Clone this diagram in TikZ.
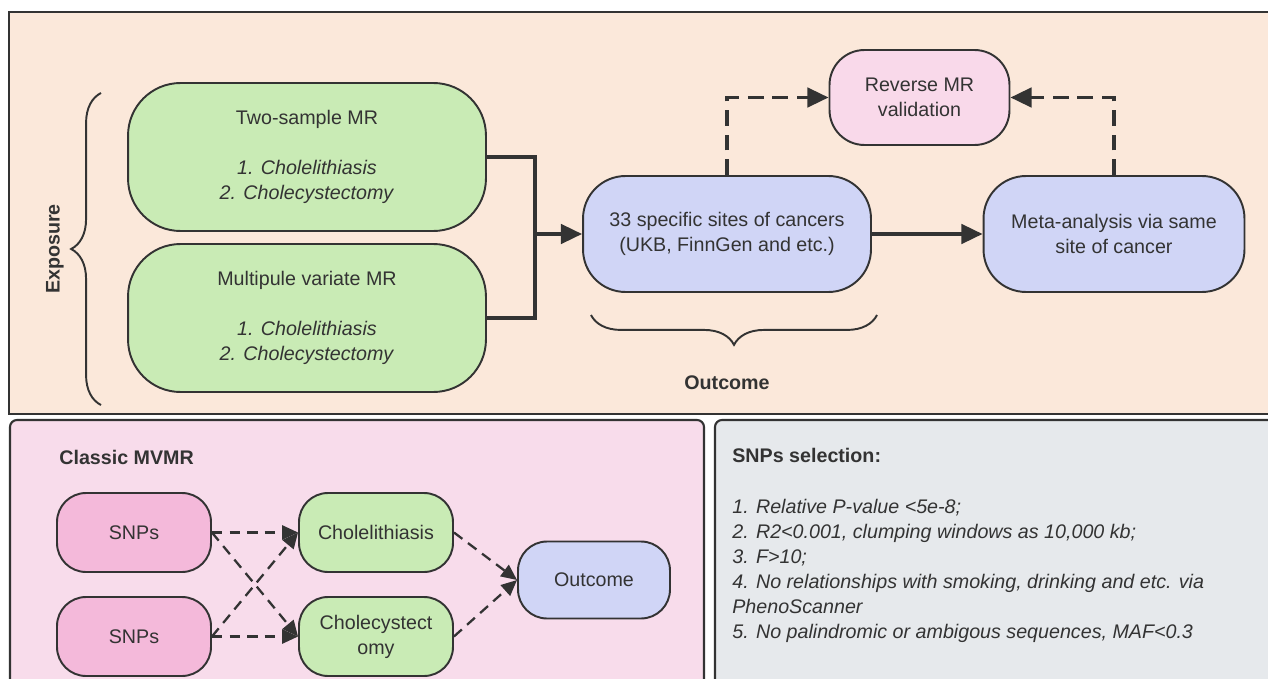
\documentclass[tikz,border=0pt]{standalone}
\usepackage{fontspec}
\setmainfont{Liberation Sans}
\usetikzlibrary{arrows.meta}
\usetikzlibrary{decorations.pathreplacing}
\definecolor{peach}{HTML}{FBE8DA}
\definecolor{leafgreen}{HTML}{C9EBB5}
\definecolor{paleblue}{HTML}{D0D5F6}
\definecolor{palepink}{HTML}{F9D9EA}
\definecolor{rosepink}{HTML}{F4B9DA}
\definecolor{panelpink}{HTML}{F8DCEB}
\definecolor{panelgray}{HTML}{E6E9EC}
\definecolor{inkgray}{HTML}{333333}

\tikzset{
 panel/.style={draw=inkgray, line width=1.2pt},
 box/.style={draw=inkgray, line width=1.1pt, align=center, text=inkgray, inner sep=0pt},
 bigbox/.style={box, rounded corners=1.05cm, minimum width=7.16cm, minimum height=2.96cm, fill=leafgreen},
 midbox/.style={box, rounded corners=0.85cm, minimum height=2.32cm, fill=paleblue},
 smallbox/.style={box, rounded corners=0.58cm, minimum width=3.08cm, minimum height=1.58cm},
 thickline/.style={draw=inkgray, line width=2pt},
 thickarrow/.style={thickline, -{Triangle[length=12pt,width=11pt]}},
 dasharrow/.style={thickarrow, dash pattern=on 9pt off 5pt},
 thinarrow/.style={draw=inkgray, line width=1.3pt, dash pattern=on 6pt off 4pt, -{Triangle[length=9pt,width=8pt]}},
 bracestyle/.style={draw=inkgray, line width=1.1pt, decorate, decoration={brace, amplitude=17pt}},
 label/.style={text=inkgray, font=\fontsize{11.2}{14.2}\selectfont\bfseries, inner sep=0pt}
}

\begin{document}
\begin{tikzpicture}[x=0.02cm, y=-0.02cm, font=\fontsize{11.2}{14.2}\selectfont]
\useasboundingbox (0,0) rectangle (1268,679);

 %panels:
 \fill[white] (0,0) rectangle (1268,679);
 \draw[panel, fill=peach] (9,12) rectangle (1290,414);
 \draw[panel, fill=panelpink, rounded corners=4pt] (10,420) rectangle (704,700);
 \draw[panel, fill=panelgray, rounded corners=4pt] (715,420) rectangle (1290,700);

 %exposure and outcome
 \node[bigbox] (twos) at (307,157) {Two-sample MR\\[14pt] \textit{1. Cholelithiasis}\\ \textit{2. Cholecystectomy}};
 \node[bigbox] (multi) at (307,318) {Multipule variate MR\\[14pt] \textit{1. Cholelithiasis}\\ \textit{2. Cholecystectomy}};
 \node[midbox, minimum width=5.76cm] (sites) at (727,234) {33 specific sites of cancers\\(UKB, FinnGen and etc.)};
 \node[midbox, minimum width=5.22cm] (meta) at (1114,234) {Meta-analysis via same\\site of cancer};
 \node[box, rounded corners=0.7cm, minimum width=3.6cm, minimum height=1.9cm, fill=palepink] (rev) at (919.5,97.5) {Reverse MR\\validation};

 \coordinate (join) at (535,234);
 \draw[thickline] (twos.east) -| (join);
 \draw[thickline] (multi.east) -| (join);
 \draw[thickarrow] (join) -- (sites.west);
 \draw[thickarrow] (sites.east) -- (meta.west);
 \draw[dasharrow] (sites.north) |- (rev.west);
 \draw[dasharrow] (meta.north) |- (rev.east);

 %braces
 \draw[bracestyle] (101,405) -- (101,93);
 \node[label, rotate=90] (expo) at (55,249) {Exposure};
 \draw[bracestyle] (877,315) -- (591,315);
 \node[label] (outl) at (727,383) {Outcome};

 %classic MVMR
 \node[label, anchor=west] (mvmr) at (59,457) {Classic MVMR};
 \node[smallbox, fill=rosepink] (snpa) at (134,532.5) {SNPs};
 \node[smallbox, fill=rosepink] (snpb) at (134,636.5) {SNPs};
 \node[smallbox, fill=leafgreen] (chla) at (376,532.5) {Cholelithiasis};
 \node[smallbox, fill=leafgreen] (chlb) at (376,636.5) {Cholecystect\\omy};
 \node[smallbox, fill=paleblue, minimum width=3.04cm, minimum height=1.54cm] (outc) at (594,580) {Outcome};

 \draw[thinarrow] (snpa.east) -- (chla.west);
 \draw[thinarrow] (snpa.east) -- (chlb.west);
 \draw[thinarrow] (snpb.east) -- (chla.west);
 \draw[thinarrow] (snpb.east) -- (chlb.west);
 \draw[thinarrow] (chla.east) -- (outc.west);
 \draw[thinarrow] (chlb.east) -- (outc.west);

 %SNPs selection
 \node[label, anchor=west] (selt) at (732,455) {SNPs selection:};
 \node[anchor=north west, align=left, text=inkgray, inner sep=0pt, font=\fontsize{11.2}{14.2}\selectfont\itshape] (sell) at (732,499) {1. Relative P-value <5e-8;\\
 2. R2<0.001, clumping windows as 10,000 kb;\\
 3. F>10;\\
 4. No relationships with smoking, drinking and etc. via\\
 PhenoScanner\\
 5. No palindromic or ambigous sequences, MAF<0.3};
\end{tikzpicture}
\end{document}
